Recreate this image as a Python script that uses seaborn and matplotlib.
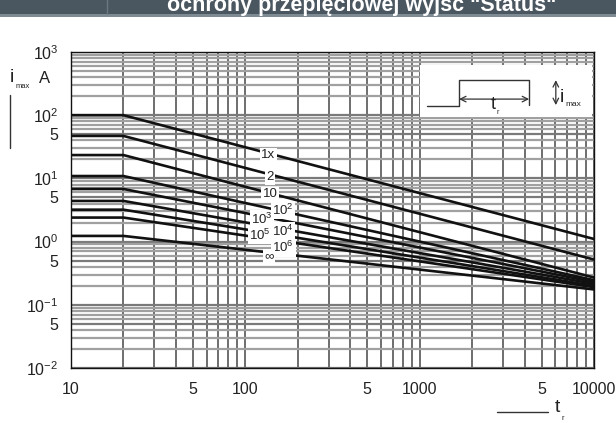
import numpy as np
import pandas as pd
import matplotlib
matplotlib.use("Agg")
import matplotlib.pyplot as plt
import seaborn as sns
from matplotlib.ticker import LogLocator, NullFormatter
from matplotlib.patches import Rectangle
from matplotlib.lines import Line2D

# ---------------- data ----------------
t_points = [10, 20, 10000]
curve_names = ["1x", "2", "10", "10^2", "10^3", "10^4", "10^5", "10^6", "inf"]
i_start = [100, 47, 23.4, 10.9, 6.8, 4.4, 3.2, 2.4, 1.23]
i_end = [1.1, 0.52, 0.27, 0.245, 0.23, 0.215, 0.2, 0.19, 0.175]

label_texts = ["1x", "2", "10", r"$10^2$", r"$10^3$", r"$10^4$", r"$10^5$", r"$10^6$", "∞"]
label_t = [135, 139, 139, 164, 125, 164, 121, 165, 137]
label_i = [23.4, 10.5, 5.67, 3.16, 2.28, 1.47, 1.27, 0.80, 0.59]

x_tick_vals = [10, 50, 100, 500, 1000, 5000, 10000]
x_tick_labels = ["10", "5", "100", "5", "1000", "5", "10000"]
y_tick_vals = [0.01, 0.05, 0.1, 0.5, 1, 5, 10, 50, 100, 1000]
y_tick_labels = [r"$10^{-2}$", "5", r"$10^{-1}$", "5", r"$10^{0}$", "5",
                 r"$10^{1}$", "5", r"$10^{2}$", r"$10^{3}$"]

rows = []
for name, a, b in zip(curve_names, i_start, i_end):
    for t, v in zip(t_points, [a, a, b]):
        rows.append({"t": t, "i": v, "curve": name})
df = pd.DataFrame(rows)

# ---------------- style ----------------
sns.set_style("white")
plt.rcParams["font.family"] = ["Liberation Sans", "DejaVu Sans"]
plt.rcParams["mathtext.fontset"] = "custom"
plt.rcParams["mathtext.rm"] = "Liberation Sans"
plt.rcParams["mathtext.it"] = "Liberation Sans:italic"
plt.rcParams["mathtext.bf"] = "Liberation Sans:bold"

W, H = 616, 423
fig = plt.figure(figsize=(W / 100, H / 100), dpi=100)
ax = fig.add_axes([71 / W, 1 - 368 / H, (594 - 71) / W, (368 - 52) / H])

sns.lineplot(data=df, x="t", y="i", hue="curve", hue_order=curve_names,
             palette=["#111111"] * len(curve_names), legend=False,
             linewidth=1.9, ax=ax, zorder=3)

ax.set_xscale("log")
ax.set_yscale("log")
ax.set_xlim(10, 10000)
ax.set_ylim(0.01, 1000)

ax.xaxis.set_minor_locator(LogLocator(base=10, subs=range(2, 10)))
ax.yaxis.set_minor_locator(LogLocator(base=10, subs=range(2, 10)))
ax.xaxis.set_minor_formatter(NullFormatter())
ax.yaxis.set_minor_formatter(NullFormatter())
ax.set_xticks(x_tick_vals, x_tick_labels)
ax.set_yticks(y_tick_vals, y_tick_labels)

ax.set_axisbelow(True)
ax.grid(axis="x", which="both", color="#555555", linewidth=1.2)
ax.grid(axis="y", which="minor", color="#a0a0a0", linewidth=1.6)
ax.grid(axis="y", which="major", color="#7a7a7a", linewidth=1.6)

ax.tick_params(axis="both", which="both", direction="out", length=4,
               color="#777777", labelsize=11.5, labelcolor="#222222")
ax.tick_params(axis="x", pad=6)
ax.tick_params(axis="y", pad=5)
ax.set_xlabel("")
ax.set_ylabel("")
for s in ax.spines.values():
    s.set_color("#111111")
    s.set_linewidth(1.0)

# curve labels
for txt, tx, iy in zip(label_texts, label_t, label_i):
    ax.text(tx, iy, txt, fontsize=9.5, ha="center", va="center", color="#222222",
            zorder=4, bbox=dict(facecolor="white", edgecolor="none", pad=1.0))

# inset pulse diagram (axes fraction coords)
ax.add_patch(Rectangle((0.667, 0.794), 0.329, 0.165, transform=ax.transAxes,
                       facecolor="white", edgecolor="none", zorder=1))
ax.plot([0.681, 0.742, 0.742, 0.876, 0.876], [0.829, 0.829, 0.911, 0.911, 0.832],
        transform=ax.transAxes, color="#333333", linewidth=1.0, zorder=3)
ax.annotate("", xy=(0.742, 0.851), xytext=(0.876, 0.851), xycoords="axes fraction",
            arrowprops=dict(arrowstyle="<->", color="#333333", lw=0.9,
                            shrinkA=0, shrinkB=0), zorder=3)
ax.annotate("", xy=(0.927, 0.911), xytext=(0.927, 0.832), xycoords="axes fraction",
            arrowprops=dict(arrowstyle="<->", color="#333333", lw=0.9,
                            shrinkA=0, shrinkB=0), zorder=3)
ax.text(0.807, 0.835, "t", transform=ax.transAxes, fontsize=13, ha="center",
        va="center", color="#222222", zorder=4)
ax.text(0.815, 0.808, "r", transform=ax.transAxes, fontsize=5, ha="center",
        va="center", color="#222222", zorder=4)
ax.text(0.939, 0.856, "i", transform=ax.transAxes, fontsize=14, ha="center",
        va="center", color="#222222", zorder=4)
ax.text(0.946, 0.833, "max", transform=ax.transAxes, fontsize=6, ha="left",
        va="center", color="#222222", zorder=4)

# axis titles
fig.text(12 / W, 1 - 77 / H, "i", fontsize=14, ha="center", va="center", color="#222222")
fig.text(16 / W, 1 - 87 / H, "max", fontsize=5.5, ha="left", va="center", color="#222222")
fig.text(45 / W, 1 - 78 / H, "A", fontsize=12, ha="center", va="center", color="#222222")
fig.add_artist(Line2D([9.5 / W, 9.5 / W], [1 - 95 / H, 1 - 148 / H],
                      transform=fig.transFigure, color="#333333", linewidth=1.0))
fig.add_artist(Line2D([497 / W, 548 / W], [1 - 412 / H, 1 - 412 / H],
                      transform=fig.transFigure, color="#333333", linewidth=1.0))
fig.text(557 / W, 1 - 407 / H, "t", fontsize=14, ha="center", va="center", color="#222222")
fig.text(561 / W, 1 - 418 / H, "r", fontsize=5.5, ha="left", va="center", color="#222222")

# header bar
fig.add_artist(Rectangle((0, 1 - 14 / H), 1, 14 / H, transform=fig.transFigure,
                         facecolor="#4b5760", edgecolor="none"))
fig.add_artist(Rectangle((0, 1 - 17 / H), 1, 3 / H, transform=fig.transFigure,
                         facecolor="#7f8b93", edgecolor="none"))
fig.add_artist(Line2D([107 / W, 107 / W], [1 - 14 / H, 1], transform=fig.transFigure,
                      color="#6c7880", linewidth=1.0))
fig.text(362 / W, 1 - 11 / H, 'ochrony przepięciowej wyjść "Status"', fontsize=15.5,
         fontweight="bold", color="white", ha="center", va="baseline")

fig.savefig("out.png", dpi=100, facecolor="white")
